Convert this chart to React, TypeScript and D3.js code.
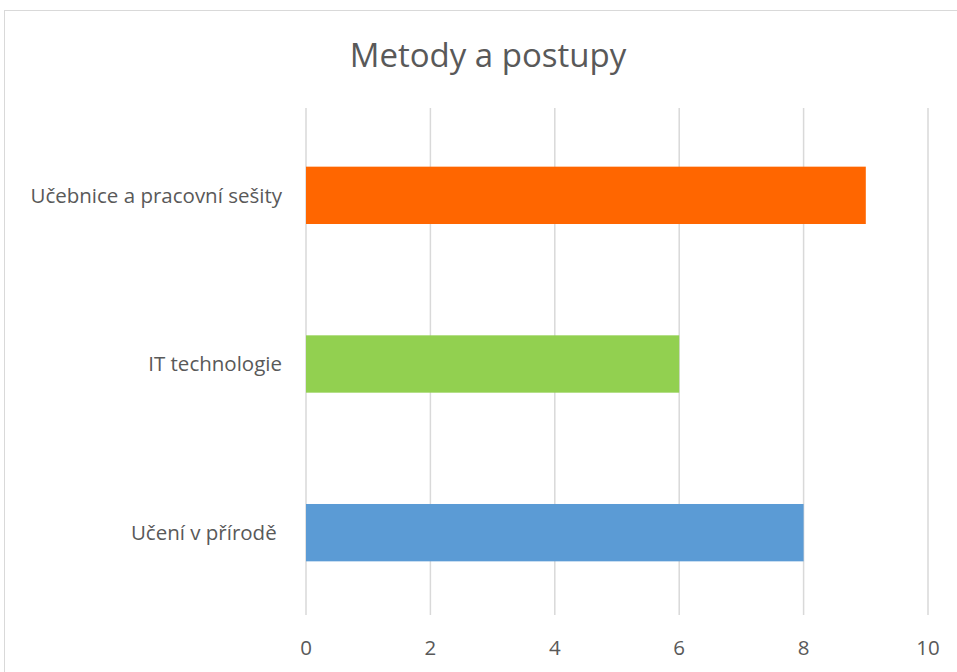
import React from "react";
import * as d3 from "d3";

const categories = ["Učebnice a pracovní sešity", "IT technologie", "Učení v přírodě "];
const values = [9, 6, 8];
const colors = ["#FF6600", "#92D050", "#5B9BD5"];
const xTicks = [0, 2, 4, 6, 8, 10];
const title = "Metody a postupy";

const W = 957;
const H = 672;

export default function App() {
  const x = d3.scaleLinear().domain([0, 10]).range([306, 928]);
  const y = d3.scaleBand<string>().domain(categories).range([111, 617]).paddingInner(0.66).paddingOuter(0.33);
  const font = "'Open Sans', 'Noto Sans', sans-serif";
  const textColor = "#595959";
  return (
    <svg width={W} height={H} style={{ position: "absolute", left: 0, top: 0, display: "block" }}>
      <rect x={0} y={0} width={W} height={H} fill="#fff" />
      <rect x={4.5} y={10.5} width={W + 20} height={H + 20} fill="#fff" stroke="#D9D9D9" strokeWidth={1} />
      <text x={488} y={67} textAnchor="middle" fontFamily={font} fontSize={33} fill={textColor}>
        {title}
      </text>
      {xTicks.map((t) => (
        <line key={t} x1={x(t)} x2={x(t)} y1={108} y2={615} stroke="#D9D9D9" strokeWidth={1.5} />
      ))}
      {categories.map((c, i) => (
        <rect key={c} x={x(0)} y={y(c)} width={x(values[i]) - x(0)} height={y.bandwidth()} fill={colors[i]} />
      ))}
      {categories.map((c) => (
        <text key={c} x={282} y={(y(c) as number) + y.bandwidth() / 2} dy="0.35em" textAnchor="end" fontFamily={font} fontSize={20.5} fill={textColor} style={{ whiteSpace: "pre" }}>
          {c}
        </text>
      ))}
      {xTicks.map((t) => (
        <text key={t} x={x(t)} y={648} dy="0.35em" textAnchor="middle" fontFamily={font} fontSize={20.5} fill={textColor}>
          {t}
        </text>
      ))}
    </svg>
  );
}
